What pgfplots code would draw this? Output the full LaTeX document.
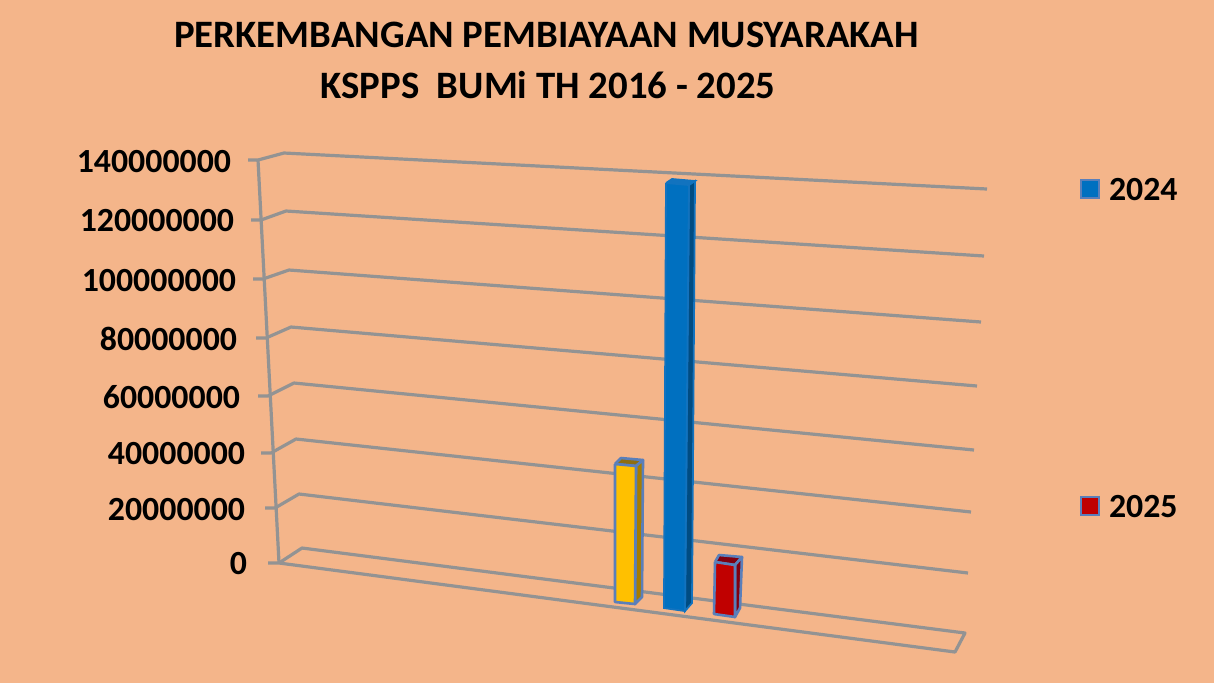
\documentclass[border=0pt]{standalone}
\usepackage{pgfplots}
\pgfplotsset{compat=1.18}
\usepackage{fontspec}
\setmainfont{Carlito}
\definecolor{bg}{HTML}{F4B58A}
\definecolor{gridc}{HTML}{939393}
\definecolor{edge}{HTML}{5A7FBA}
\definecolor{yfront}{HTML}{FFC000}
\definecolor{yside}{HTML}{A67C00}
\definecolor{ytop}{HTML}{8F6E10}
\definecolor{bfront}{HTML}{0070C0}
\definecolor{bside}{HTML}{004C82}
\definecolor{rfront}{HTML}{C00000}
\definecolor{rside}{HTML}{800010}
\newcommand{\chartfont}{\fontsize{33.8}{40}\bfseries\selectfont}
\newcommand{\titlefont}{\fontsize{38.8}{46}\bfseries\selectfont}
\begin{document}
\begin{tikzpicture}
\begin{axis}[
  anchor=north west, at={(0pt,0pt)},
  scale only axis, width=1214pt, height=683pt,
  xmin=0, xmax=1214, ymin=0, ymax=683, y dir=reverse,
  xtick=\empty, ytick=\empty,
  axis line style={draw=none},
  axis background/.style={fill=bg},
  clip=false,
]
% Perspective wall and floor lines, one per value level (tick, front corner, back corner, right end)
\pgfplotsset{gl/.style={draw=gridc, line width=3.2pt, no marks, line join=round}}
\addplot[gl] coordinates {(248,160) (258,160) (284,153) (987,189)};   % 140000000
\addplot[gl] coordinates {(251,220) (261,220) (286,211) (984,256)};   % 120000000
\addplot[gl] coordinates {(253,279) (263,279) (289,270) (981,322)};   % 100000000
\addplot[gl] coordinates {(256,338) (266,338) (291,327) (977,386)};   % 80000000
\addplot[gl] coordinates {(258,396) (268,396) (294,383) (974,450)};   % 60000000
\addplot[gl] coordinates {(261,453) (271,453) (296,439) (971,512)};   % 40000000
\addplot[gl] coordinates {(265,508) (275,508) (299,494) (968,573)};   % 20000000
\addplot[gl] coordinates {(268,563) (279,563) (302,548) (965,633) (955,652) (279,563)}; % 0 and floor
\addplot[gl] coordinates {(258,160) (279,563)};  % value axis

\pgfplotsset{bar/.style={draw=edge, line width=2.6pt, line join=round, no marks}}
% Yellow bar (about 35000000)
\addplot[bar, fill=ytop]    coordinates {(615,464) (621,458) (643,460) (636,466) (615,464)};
\addplot[bar, fill=yside]   coordinates {(636,466) (643,460) (642,597) (635,604) (636,466)};
\addplot[bar, fill=yfront]  coordinates {(615,464) (636,466) (635,604) (615,602) (615,464)};
% Blue bar (about 133000000)
\addplot[draw=bfront!80!edge, line width=1.8pt, fill=bfront!80!edge, no marks] coordinates {(666,183) (672,179) (695,181) (689,185) (666,183)};
\addplot[draw=bfront!80!edge, line width=1.8pt, fill=bside, no marks]  coordinates {(689,185) (695,181) (692,603) (685,611) (689,185)};
\addplot[draw=bfront!80!edge, line width=1.8pt, fill=bfront, no marks] coordinates {(666,183) (689,185) (685,611) (664,608) (666,183)};
% Red bar (about 10000000)
\addplot[bar, fill=rside]  coordinates {(715,562) (719,555) (742,557) (735,565) (715,562)};
\addplot[bar, fill=rside]  coordinates {(735,565) (742,557) (740,608) (735,617) (735,565)};
\addplot[bar, fill=rfront] coordinates {(715,562) (735,565) (735,617) (714,614) (715,562)};

% Legend keys
\addplot[only marks, mark=square*, mark size=9pt, mark options={fill=bfront, draw=edge, line width=1.5pt}] coordinates {(1090,189)};
\addplot[only marks, mark=square*, mark size=9pt, mark options={fill=rfront, draw=edge, line width=1.5pt}] coordinates {(1090,506)};

\tikzset{lab/.style={inner sep=0pt, outer sep=0pt, font=\chartfont, text=black},
         ttl/.style={inner sep=0pt, outer sep=0pt, font=\titlefont, text=black}}
\node[lab, anchor=east] at (axis cs:231,162) {140000000};
\node[lab, anchor=east] at (axis cs:234,221) {120000000};
\node[lab, anchor=east] at (axis cs:236,281) {100000000};
\node[lab, anchor=east] at (axis cs:237,339) {80000000};
\node[lab, anchor=east] at (axis cs:240,397) {60000000};
\node[lab, anchor=east] at (axis cs:245,454) {40000000};
\node[lab, anchor=east] at (axis cs:245,510) {20000000};
\node[lab, anchor=east] at (axis cs:247,564) {0};
\node[lab, anchor=west] at (axis cs:1109,190) {2024};
\node[lab, anchor=west] at (axis cs:1109,507) {2025};
\node[ttl] at (axis cs:546.5,35) {PERKEMBANGAN PEMBIAYAAN MUSYARAKAH};
\node[ttl] at (axis cs:548,85) {KSPPS\ \ BUMi TH 2016 - 2025};
\end{axis}
\end{tikzpicture}
\end{document}
